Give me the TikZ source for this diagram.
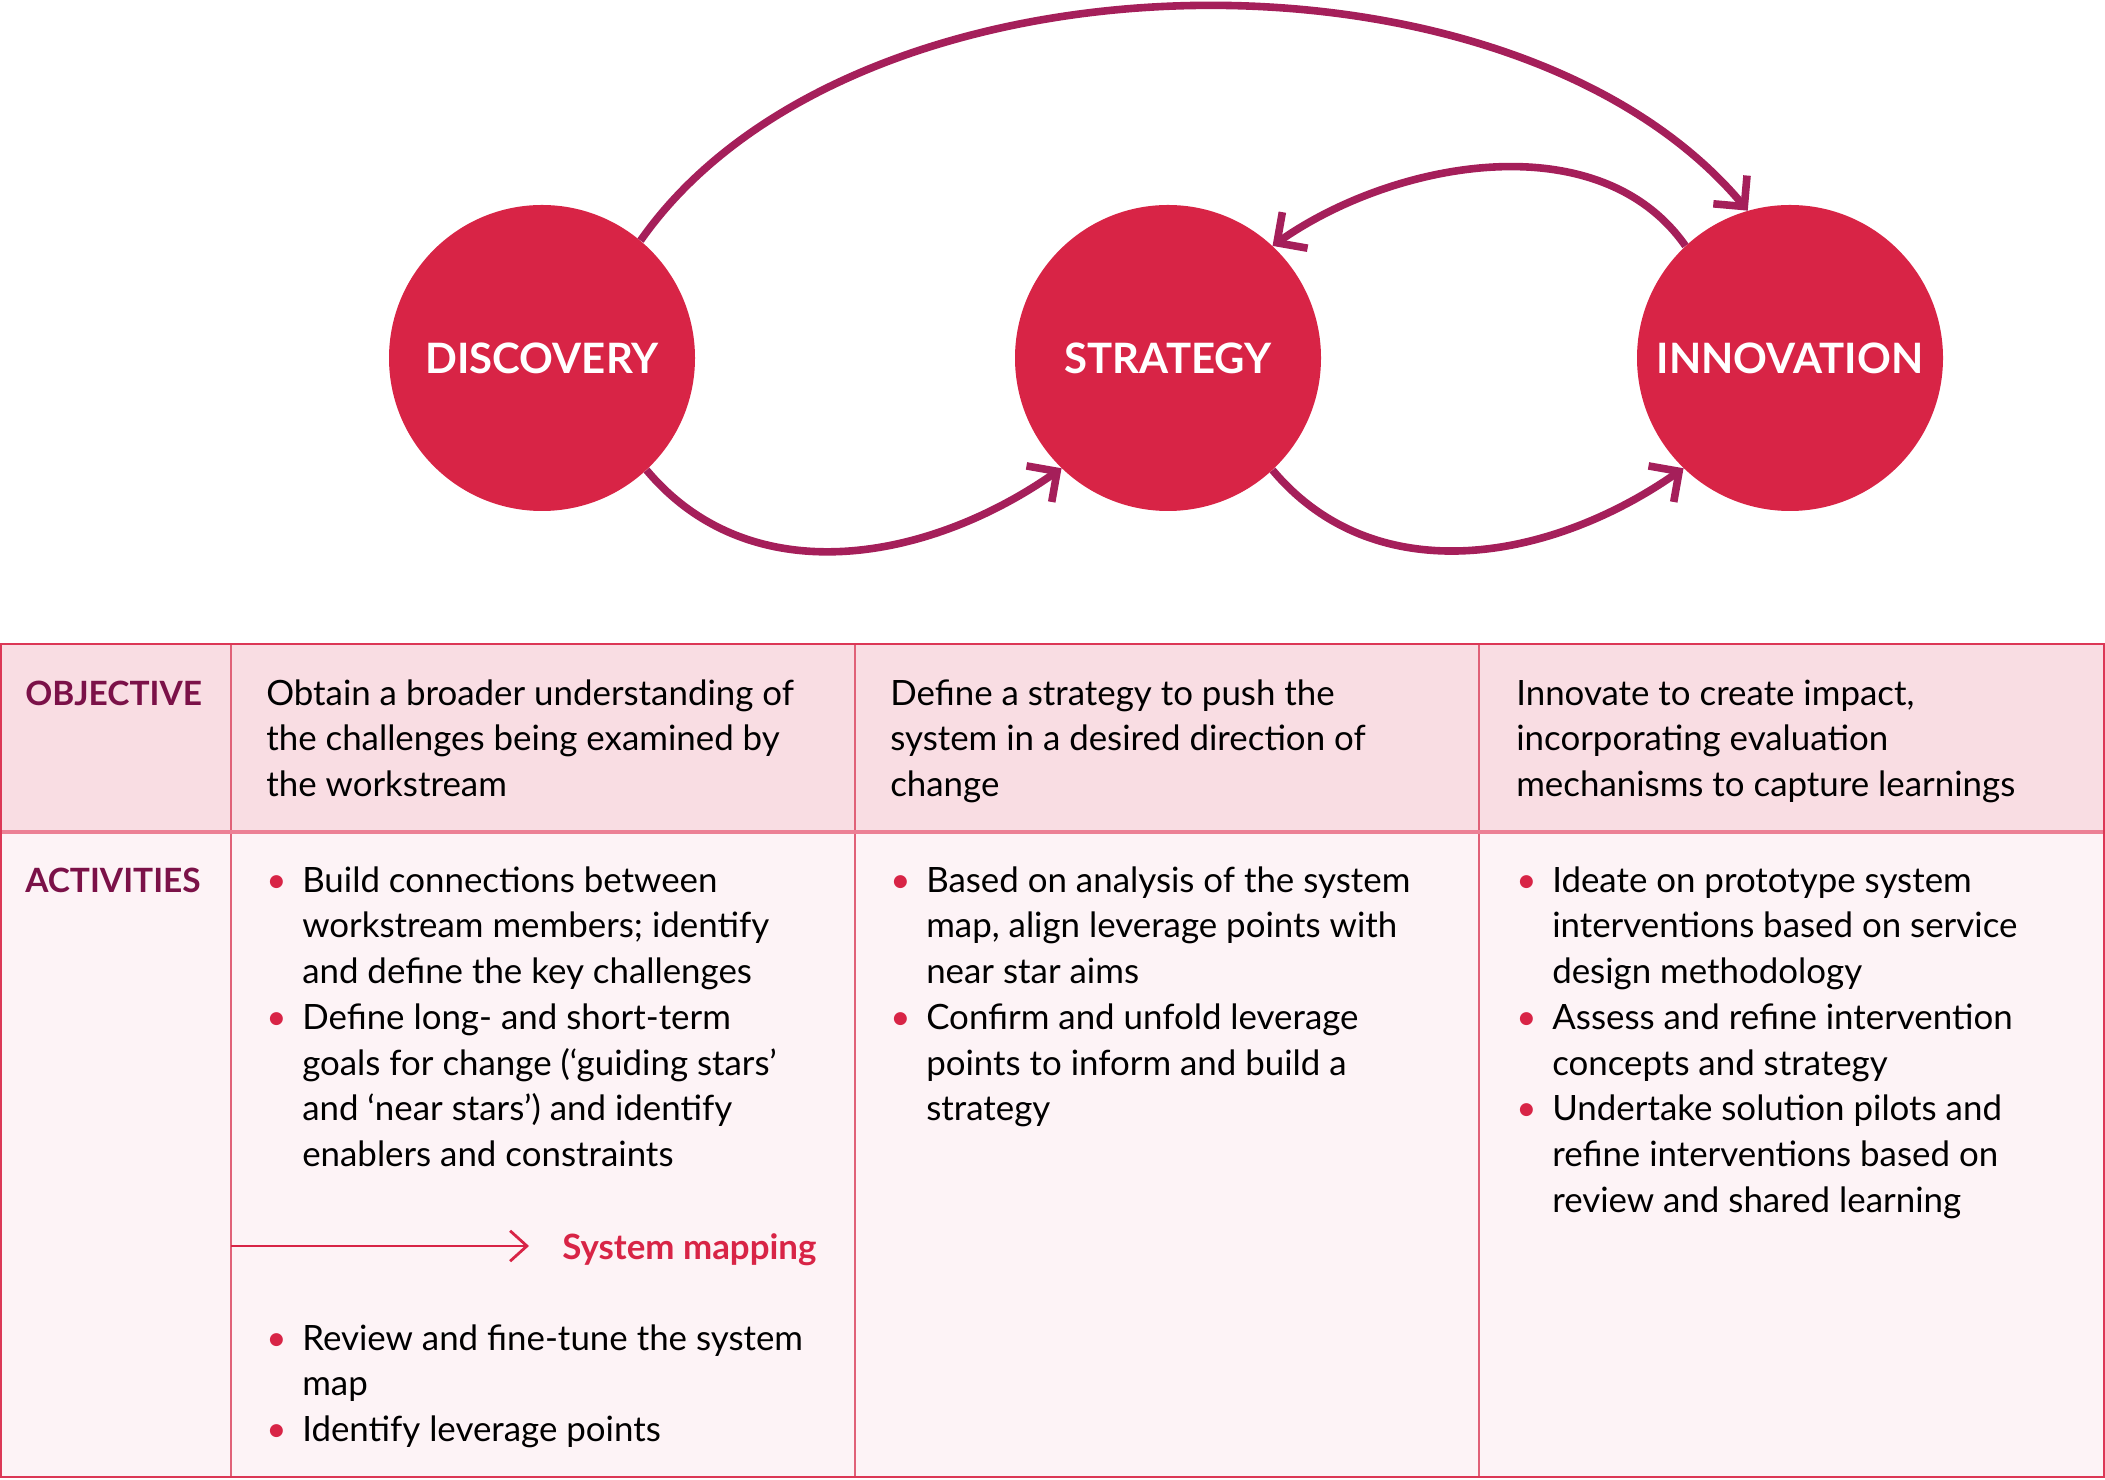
\documentclass[tikz,border=0pt]{standalone}
\usepackage{fontspec}
\setmainfont{Lato}
\usepackage{xcolor}
\usetikzlibrary{arrows.meta,positioning,calc}

\definecolor{crimson}{HTML}{D82446}
\definecolor{loopcol}{HTML}{A51F5A}
\definecolor{headtxt}{HTML}{7B1148}
\definecolor{headbg}{HTML}{F9DDE3}
\definecolor{bodybg}{HTML}{FDF3F6}
\definecolor{rimcol}{HTML}{DC3756}
\definecolor{splitcol}{HTML}{EC8095}
\definecolor{colcol}{HTML}{E06178}

% bullet item with hanging lines
\newcommand{\bitem}[1]{\makebox[9mm][l]{\textcolor{crimson}{\textbullet}}\begin{tabular}[t]{@{}l@{}}#1\end{tabular}}

\begin{document}
\setlength{\lineskip}{0pt}
\begin{tikzpicture}[
  x=0.25mm, y=0.25mm,
  stage/.style={circle, fill=crimson, minimum size=76.5mm, inner sep=0pt, text=white,
    font=\fontsize{29.8}{36}\selectfont\bfseries},
  loop/.style={line width=1.9mm, draw=loopcol, -{Straight Barb[length=5.5mm, width=11mm]}},
  rowlbl/.style={anchor=north west, inner sep=0pt, text=headtxt,
    font=\fontsize{23.8}{32.5}\selectfont\bfseries},
  cell/.style={anchor=north west, inner sep=0pt, align=left,
    font=\fontsize{24.8}{32.5}\selectfont},
]
\useasboundingbox (0,0) rectangle (2105,1479);

%------------------- Top: the three stages -------------------
\node (disc)  [stage] at (542,1121)  {DISCOVERY};
\node (strat) [stage] at (1168,1121) {STRATEGY};
\node (innov) [stage] at (1790,1121) {INNOVATION};

\draw[loop] (disc.-47)  to[out=-50, in=-145] (strat.-134);   % discovery -> strategy
\draw[loop] (strat.-47) to[out=-50, in=-145] (innov.-134);   % strategy -> innovation
\draw[loop] (innov.133) to[out=125, in=35, looseness=0.93] (strat.47);  % innovation -> strategy
\draw[loop] (disc.50)   to[out=55, in=130, looseness=0.85] (innov.106); % discovery -> innovation

%------------------- Bottom: table -------------------
\fill[headbg] (0,647) rectangle (2105,835);
\fill[bodybg] (0,2) rectangle (2105,647);
\foreach \cx in {231,855,1479}
  \draw[colcol, line width=0.4mm] (\cx,2) -- (\cx,835);
\draw[splitcol, line width=1mm] (0,647) -- (2105,647);
\draw[rimcol, line width=0.5mm] (1,2) rectangle (2104,835);

% row labels
\node (objlbl) [rowlbl] at (25,806) {\strut OBJECTIVE};
\node (actlbl) [rowlbl] at (25,619) {\strut ACTIVITIES};

% objectives
\node (objdisc)  [cell] at (266,806)  {\strut Obtain a broader understanding of\\the challenges being examined by\\the workstream};
\node (objstrat) [cell] at (890,806)  {\strut Define a strategy to push the\\system in a desired direction of\\change};
\node (objinnov) [cell] at (1516,806) {\strut Innovate to create impact,\\incorporating evaluation\\mechanisms to capture learnings};

% activities
\node (actdisc) [cell] at (266,619) {%
  \bitem{Build connections between\\workstream members; identify\\and define the key challenges}\\
  \bitem{Define long- and short-term\\goals for change (‘guiding stars’\\and ‘near stars’) and identify\\enablers and constraints}};
\node (actmap) [cell] at (266,161) {%
  \bitem{Review and fine-tune the system\\map}\\
  \bitem{Identify leverage points}};
\node (actstrat) [cell] at (890,619) {%
  \bitem{Based on analysis of the system\\map, align leverage points with\\near star aims}\\
  \bitem{Confirm and unfold leverage\\points to inform and build a\\strategy}};
\node (actinnov) [cell] at (1516,619) {%
  \bitem{Ideate on prototype system\\interventions based on service\\design methodology}\\
  \bitem{Assess and refine intervention\\concepts and strategy}\\
  \bitem{Undertake solution pilots and\\refine interventions based on\\review and shared learning}};

% system mapping step
\coordinate (mapstart) at (231,233);
\node (sysmap) [anchor=base west, inner sep=0pt, text=crimson,
  font=\fontsize{24.8}{32.5}\selectfont\bfseries] at (562,220) {System mapping};
\draw[crimson, line width=0.7mm, -{Straight Barb[length=4.2mm, width=7.6mm]}]
  (mapstart) -- ([xshift=-8.25mm]sysmap.west |- mapstart);

\end{tikzpicture}
\end{document}
